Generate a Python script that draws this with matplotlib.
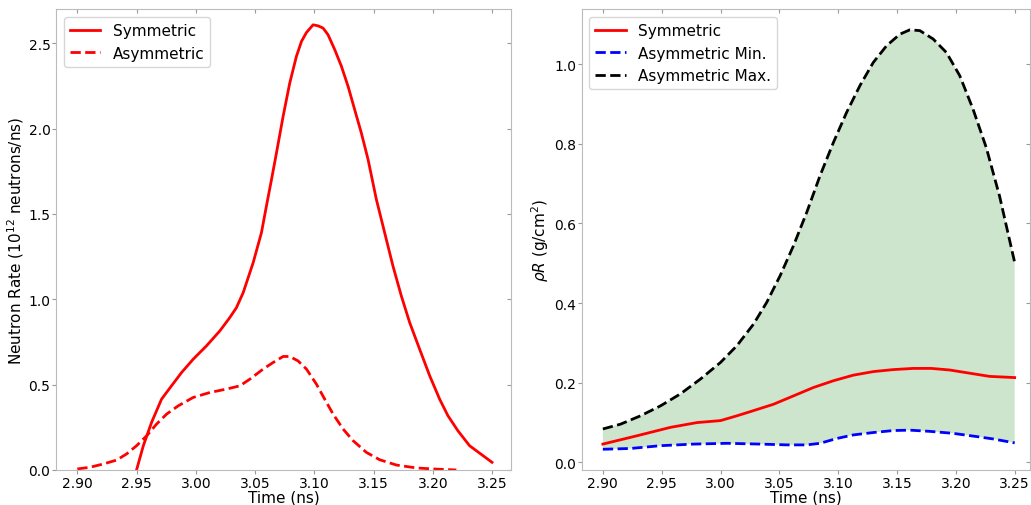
import numpy as np
import matplotlib.pyplot as plt

# left panel: neutron rate (10^12 neutrons/ns) vs time (ns)
t_sym = [2.95, 2.9557, 2.9627, 2.9711, 2.9795, 2.988, 2.9978, 3.009, 3.0203, 3.0287,
         3.0343, 3.04, 3.0484, 3.0554, 3.0596, 3.0639, 3.0681, 3.0737, 3.0793, 3.0849,
         3.0892, 3.0934, 3.099, 3.1032, 3.1074, 3.1116, 3.1173, 3.1229, 3.1285, 3.1341,
         3.1397, 3.1454, 3.1524, 3.1594, 3.1664, 3.1735, 3.1805, 3.1889, 3.1974, 3.2058,
         3.2128, 3.2212, 3.2311, 3.25]
rate_sym = [0.0, 0.142, 0.279, 0.415, 0.493, 0.571, 0.649, 0.727, 0.815, 0.893,
            0.951, 1.039, 1.214, 1.39, 1.546, 1.702, 1.858, 2.072, 2.267, 2.423,
            2.511, 2.563, 2.608, 2.602, 2.589, 2.55, 2.462, 2.365, 2.248, 2.111,
            1.975, 1.819, 1.585, 1.39, 1.195, 1.019, 0.864, 0.708, 0.552, 0.415,
            0.318, 0.23, 0.142, 0.045]
t_asym = [2.90, 2.9107, 2.9219, 2.9332, 2.9416, 2.95, 2.9585, 2.9669, 2.9753, 2.9852,
          2.9978, 3.0119, 3.0259, 3.0372, 3.0456, 3.0568, 3.0653, 3.0737, 3.0793, 3.0863,
          3.0934, 3.1018, 3.1088, 3.1159, 3.1243, 3.1327, 3.144, 3.1552, 3.1693, 3.1861,
          3.2002, 3.2199]
rate_asym = [0.006, 0.016, 0.035, 0.058, 0.094, 0.142, 0.2, 0.269, 0.327, 0.376,
             0.425, 0.454, 0.474, 0.493, 0.532, 0.591, 0.63, 0.665, 0.665, 0.639,
             0.591, 0.503, 0.415, 0.327, 0.24, 0.172, 0.103, 0.06, 0.029, 0.012,
             0.006, 0.0]

# right panel: rho R (g/cm^2) vs time (ns)
t_max = [2.90, 2.915, 2.932, 2.949, 2.9659, 2.9828, 3.0, 3.0139, 3.028, 3.0393,
         3.0507, 3.062, 3.0733, 3.0846, 3.0959, 3.1072, 3.1185, 3.1298, 3.1411, 3.1524,
         3.1609, 3.1694, 3.1807, 3.192, 3.2033, 3.2146, 3.2259, 3.2372, 3.25]
rho_max = [0.084, 0.096, 0.117, 0.142, 0.172, 0.209, 0.251, 0.293, 0.347, 0.402,
           0.469, 0.544, 0.628, 0.72, 0.803, 0.879, 0.946, 1.004, 1.046, 1.075,
           1.086, 1.084, 1.063, 1.029, 0.971, 0.887, 0.79, 0.668, 0.502]
t_sym2 = [2.90, 2.9291, 2.9574, 2.98, 3.0, 3.0139, 3.028, 3.045, 3.062, 3.0789,
          3.0959, 3.1128, 3.1298, 3.1467, 3.1637, 3.1792, 3.1948, 3.2117, 3.2287, 3.25]
rho_sym = [0.046, 0.067, 0.088, 0.1, 0.105, 0.117, 0.13, 0.146, 0.167, 0.188,
           0.205, 0.219, 0.228, 0.233, 0.236, 0.236, 0.232, 0.224, 0.216, 0.213]
t_min = [2.90, 2.9235, 2.949, 2.9772, 3.0054, 3.0337, 3.0563, 3.0733, 3.0846, 3.0987,
         3.1128, 3.1298, 3.1467, 3.1609, 3.1778, 3.1976, 3.2174, 3.2315, 3.25]
rho_min = [0.033, 0.035, 0.042, 0.046, 0.048, 0.046, 0.044, 0.044, 0.048, 0.06,
           0.069, 0.075, 0.08, 0.081, 0.078, 0.073, 0.065, 0.059, 0.049]

plt.rcParams['font.family'] = 'DejaVu Sans'

fig = plt.figure(figsize=(10.31, 5.06), dpi=100)
ax1 = fig.add_axes([0.0543, 0.0692, 0.4413, 0.9108])
ax2 = fig.add_axes([0.5642, 0.0692, 0.4348, 0.9108])

ax1.plot(t_sym, rate_sym, 'r-', lw=2, label='Symmetric')
ax1.plot(t_asym, rate_asym, 'r--', lw=2, label='Asymmetric')
ax1.set_xlim(2.882, 3.266)
ax1.set_ylim(0, 2.7)
ax1.set_yticks([0.0, 0.5, 1.0, 1.5, 2.0, 2.5])
ax1.set_ylabel('Neutron Rate (10$^{12}$ neutrons/ns)', fontsize=11, labelpad=2)

# shaded band between asymmetric min and max
ax2.fill(t_max + t_min[::-1], rho_max + rho_min[::-1], color='green', alpha=0.2, lw=0)
ax2.plot(t_sym2, rho_sym, 'r-', lw=2, label='Symmetric')
ax2.plot(t_min, rho_min, 'b--', lw=2, label='Asymmetric Min.')
ax2.plot(t_max, rho_max, 'k--', lw=2, label='Asymmetric Max.')
ax2.set_xlim(2.882, 3.263)
ax2.set_ylim(-0.019, 1.138)
ax2.set_yticks([0.0, 0.2, 0.4, 0.6, 0.8, 1.0])
ax2.set_ylabel(r'$\rho R$ (g/cm$^2$)', fontsize=11, labelpad=2)

for ax in (ax1, ax2):
    ax.set_xticks(np.arange(2.90, 3.26, 0.05))
    ax.set_xlabel('Time (ns)', fontsize=11, labelpad=0)
    ax.legend(loc='upper left', fontsize=11)
    ax.xaxis.set_major_formatter(plt.FormatStrFormatter('%.2f'))
    ax.yaxis.set_major_formatter(plt.FormatStrFormatter('%.1f'))
    for s in ax.spines.values():
        s.set_color('#bbbbbb')
    ax.tick_params(which='both', color='#999999', length=3, pad=1, labelsize=10,
                   direction='out')
    ax.tick_params(top=True, right=True)
    for tk in ax.xaxis.get_major_ticks():
        tk.tick2line.set_marker(3)
    for tk in ax.yaxis.get_major_ticks():
        tk.tick2line.set_marker(0)

fig.savefig('out.png', dpi=100)
